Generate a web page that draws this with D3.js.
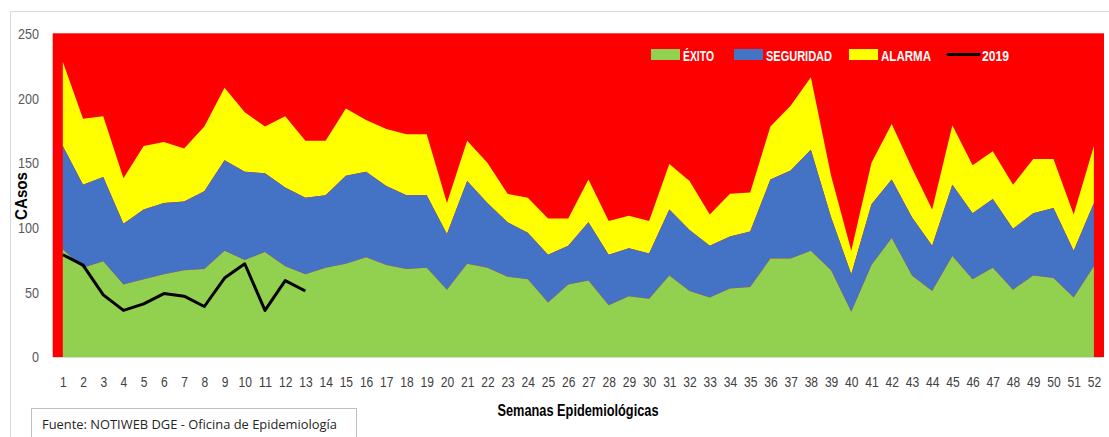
<!DOCTYPE html>
<html>
<head>
<meta charset="utf-8">
<script src="https://cdn.jsdelivr.net/npm/d3@7"></script>
<style>
  body { margin: 0; background: #fff; }
  svg { display: block; }
  .tick text { font-family: "Liberation Sans", Arial, sans-serif; }
</style>
</head>
<body>
<div id="chart"></div>
<script>
// weeks 1..52
var semanas = d3.range(1, 53);

// upper limit of each zone (cumulative)
var exito = [83,69,74,56,60,64,67,68,82,75,81,70,64,69,72,77,71,68,69,52,72,69,62,60,42,56,
             59,40,47,45,63,51,46,53,54,76,76,82,67,35,71,92,63,51,78,60,69,52,63,61,46,70];
var seguridad = [163,133,139,103,114,119,120,128,152,143,142,131,123,125,140,143,132,125,125,95,136,119,104,96,79,86,
                 104,79,84,80,114,98,86,93,97,137,144,160,108,64,118,137,108,86,133,111,122,99,111,115,82,119];
var alarma = [228,184,186,138,163,166,161,178,208,189,178,186,167,167,192,183,176,172,172,119,167,150,126,123,107,107,
              137,105,109,105,149,136,110,126,127,178,194,216,140,82,150,180,146,114,179,148,159,133,153,153,110,163];
// 2019 cases, weeks 1..13
var casos2019 = [79,71,48,36,41,49,47,39,61,72,36,59,51];

var yTicks = [0, 50, 100, 150, 200, 250];

var width = 1109, height = 437;
var margin = {left: 52.7, right: 5, top: 33.3, bottom: 80};

// condensed look (the original uses a narrow font): squeeze digits
function squeeze(sel, perChar) {
    sel.each(function () {
        var t = d3.select(this);
        t.attr("textLength", t.text().length * perChar)
         .attr("lengthAdjust", "spacingAndGlyphs");
    });
}

var svg = d3.select("#chart").append("svg")
    .attr("width", width)
    .attr("height", height);

// outer chart border (only top and left are visible)
svg.append("path")
    .attr("d", "M10.5,437V11.5H1109")
    .attr("fill", "none")
    .attr("stroke", "#d9d9d9");

var x = d3.scalePoint()
    .domain(semanas)
    .range([margin.left, width - margin.right])
    .padding(0.5);

var y = d3.scaleLinear()
    .domain([0, 250])
    .range([357, margin.top]);

// epidemia zone = whole plot area
svg.append("rect")
    .attr("x", margin.left)
    .attr("y", y(250))
    .attr("width", width - margin.right - margin.left)
    .attr("height", y(0) - y(250))
    .attr("fill", "#ff0000");

var zonas = [
    {name: "ALARMA", lo: seguridad, hi: alarma, color: "#ffff00"},
    {name: "SEGURIDAD", lo: exito, hi: seguridad, color: "#4472c4"},
    {name: "ÉXITO", lo: null, hi: exito, color: "#92d050"}
];

zonas.forEach(function (z) {
    var area = d3.area()
        .x(function (d, i) { return x(semanas[i]); })
        .y0(function (d, i) { return z.lo ? y(z.lo[i]) : y(0); })
        .y1(function (d, i) { return y(z.hi[i]); });
    svg.append("path")
        .datum(z.hi)
        .attr("d", area)
        .attr("fill", z.color);
});

// 2019 line
var line = d3.line()
    .x(function (d, i) { return x(semanas[i]); })
    .y(function (d) { return y(d); });

svg.append("path")
    .datum(casos2019)
    .attr("d", line)
    .attr("fill", "none")
    .attr("stroke", "#000")
    .attr("stroke-width", 3)
    .attr("stroke-linejoin", "round");

// y axis
var yAxis = svg.append("g")
    .attr("transform", "translate(39,0)")
    .call(d3.axisLeft(y).tickValues(yTicks).tickSize(0).tickPadding(0));
yAxis.select(".domain").remove();
yAxis.selectAll("text")
    .attr("fill", "#595959")
    .style("font-size", "15.5px")
    .call(squeeze, 7);

// x axis
svg.append("line")
    .attr("x1", margin.left).attr("x2", width - margin.right)
    .attr("y1", 357.5).attr("y2", 357.5)
    .attr("stroke", "#d9d9d9");

var xAxis = svg.append("g")
    .attr("transform", "translate(0,376)")
    .call(d3.axisBottom(x).tickSize(0).tickPadding(0));
xAxis.select(".domain").remove();
xAxis.selectAll("text")
    .attr("fill", "#404040")
    .style("font-size", "15.5px")
    .call(squeeze, 6.7);

// axis titles
svg.append("text")
    .attr("transform", "translate(27,196) rotate(-90)")
    .attr("text-anchor", "middle")
    .attr("textLength", 48)
    .attr("lengthAdjust", "spacingAndGlyphs")
    .style("font-family", "'Liberation Sans', sans-serif")
    .style("font-weight", "bold")
    .style("font-size", "16px")
    .text("CAsos");

svg.append("text")
    .attr("x", 578)
    .attr("y", 416)
    .attr("text-anchor", "middle")
    .attr("textLength", 161)
    .attr("lengthAdjust", "spacingAndGlyphs")
    .style("font-family", "'Liberation Sans', sans-serif")
    .style("font-weight", "bold")
    .style("font-size", "16px")
    .text("Semanas Epidemiológicas");

// legend
var legend = [
    {name: "ÉXITO", color: "#92d050", x: 651, w: 31, type: "box"},
    {name: "SEGURIDAD", color: "#4472c4", x: 734, w: 66, type: "box"},
    {name: "ALARMA", color: "#ffff00", x: 849, w: 50, type: "box"},
    {name: "2019", color: "#000", x: 948, w: 27, type: "line"}
];
var lg = svg.append("g").selectAll("g")
    .data(legend)
    .enter().append("g")
    .attr("transform", function (d) { return "translate(" + d.x + ",49)"; });

lg.filter(function (d) { return d.type === "box"; })
    .append("rect")
    .attr("width", 29).attr("height", 11)
    .attr("fill", function (d) { return d.color; });
lg.filter(function (d) { return d.type === "line"; })
    .append("line")
    .attr("x1", 0).attr("x2", 31).attr("y1", 5.5).attr("y2", 5.5)
    .attr("stroke", "#000").attr("stroke-width", 3).attr("stroke-linecap", "round");
lg.append("text")
    .attr("x", function (d) { return d.type === "line" ? 34 : 32; })
    .attr("y", 11.5)
    .attr("fill", "#fff")
    .attr("textLength", function (d) { return d.w; })
    .attr("lengthAdjust", "spacingAndGlyphs")
    .style("font-family", "'Liberation Sans', sans-serif")
    .style("font-weight", "bold")
    .style("font-size", "15px")
    .text(function (d) { return d.name; });

// source box
svg.append("rect")
    .attr("x", 31.5).attr("y", 408.5)
    .attr("width", 325).attr("height", 32)
    .attr("fill", "#fff")
    .attr("stroke", "#bfbfbf");
svg.append("text")
    .attr("x", 42)
    .attr("y", 429)
    .attr("fill", "#262626")
    .attr("textLength", 295)
    .attr("lengthAdjust", "spacingAndGlyphs")
    .style("font-family", "'Open Sans', sans-serif")
    .style("font-size", "12.5px")
    .text("Fuente: NOTIWEB DGE - Oficina de Epidemiología");
</script>
</body>
</html>
